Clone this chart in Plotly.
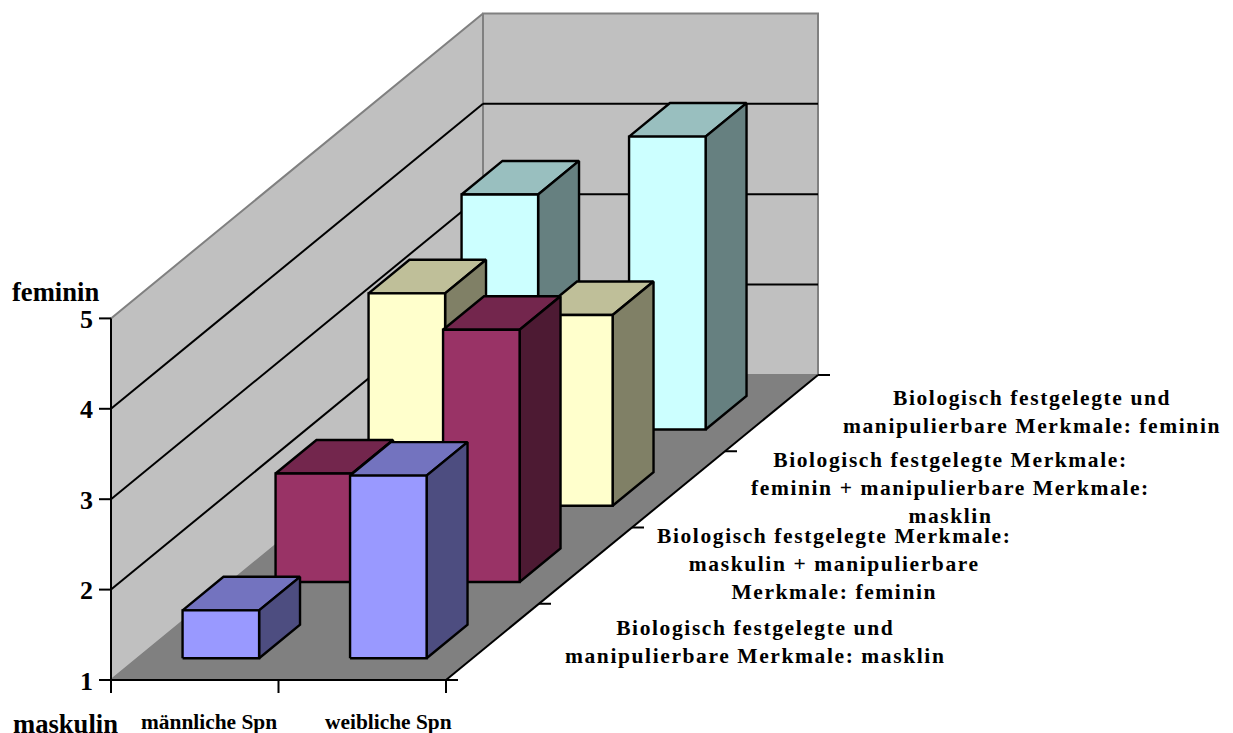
import plotly.graph_objects as go

# Categories along the front axis, series along the depth axis (front to back)
categories = ["männliche Spn", "weibliche Spn"]
series_lines = [
    ["Biologisch festgelegte und", "manipulierbare Merkmale: masklin"],
    ["Biologisch festgelegte Merkmale:", "maskulin + manipulierbare", "Merkmale: feminin"],
    ["Biologisch festgelegte Merkmale:", "feminin + manipulierbare Merkmale:", "masklin"],
    ["Biologisch festgelegte und", "manipulierbare Merkmale: feminin"],
]
series_values = [
    [1.53, 3.02],
    [2.20, 3.79],
    [3.35, 3.11],
    [3.60, 4.24],
]
value_ticks = [1, 2, 3, 4, 5]

# Face colours per series: front, top, side
front_colors = ["#9999FF", "#993366", "#FFFFCC", "#CCFFFF"]
top_colors = ["#7373BF", "#73264D", "#BFBF99", "#99BFBF"]
side_colors = ["#4D4D80", "#4D1A33", "#808066", "#668080"]

# Oblique projection of the chart box onto the page
ORIGIN_X, ORIGIN_Y = 111.0, 680.0
CAT_W = 167.5
UNIT_H = 90.4
SLOT_DX, SLOT_DY = 93.0, -76.25
BAR_LEFT, BAR_W = 0.269, 0.457
DEPTH_A, DEPTH_B = 0.285, 0.725


def project(cat, value, depth):
    """cat in category widths, value on the 1-5 scale, depth in series slots."""
    return (
        ORIGIN_X + cat * CAT_W + depth * SLOT_DX,
        ORIGIN_Y - (value - 1) * UNIT_H + depth * SLOT_DY,
    )


fig = go.Figure()


def polygon(points, fill, line="#000000", width=2.4):
    xs, ys = zip(*[project(*p) for p in points])
    fig.add_trace(go.Scatter(
        x=list(xs) + [xs[0]], y=list(ys) + [ys[0]], mode="lines",
        fill="toself", fillcolor=fill,
        line=dict(color=line, width=width, shape="linear"),
        hoverinfo="skip", showlegend=False,
    ))


def segment(a, b, color="#000000", width=2.0):
    xs, ys = zip(project(*a), project(*b))
    fig.add_trace(go.Scatter(
        x=list(xs), y=list(ys), mode="lines",
        line=dict(color=color, width=width),
        hoverinfo="skip", showlegend=False,
    ))


n_cat, n_ser = len(categories), len(series_values)
vmin, vmax = value_ticks[0], value_ticks[-1]

# Walls and floor
polygon([(0, vmin, 0), (0, vmax, 0), (0, vmax, n_ser), (0, vmin, n_ser)], "#C0C0C0", "#808080", 2.0)
polygon([(0, vmin, n_ser), (0, vmax, n_ser), (n_cat, vmax, n_ser), (n_cat, vmin, n_ser)], "#C0C0C0", "#808080", 2.0)
polygon([(0, vmin, 0), (n_cat, vmin, 0), (n_cat, vmin, n_ser), (0, vmin, n_ser)], "#808080", "#808080", 1.0)

# Gridlines on both walls
for v in value_ticks[1:-1]:
    segment((0, v, 0), (0, v, n_ser))
    segment((0, v, n_ser), (n_cat, v, n_ser))

# Axis lines and tick marks
segment((0, vmin, 0), (0, vmax, 0))
segment((0, vmin, 0), (n_cat, vmin, 0))
segment((n_cat, vmin, 0), (n_cat, vmin, n_ser))
for v in value_ticks:
    x, y = project(0, v, 0)
    fig.add_shape(type="line", x0=x - 12, x1=x, y0=y, y1=y, line=dict(color="#000000", width=2))
for c in range(n_cat + 1):
    x, y = project(c, vmin, 0)
    fig.add_shape(type="line", x0=x, x1=x, y0=y, y1=y + 13, line=dict(color="#000000", width=2))
for s in range(n_ser + 1):
    x, y = project(n_cat, vmin, s)
    fig.add_shape(type="line", x0=x, x1=x + 12, y0=y, y1=y, line=dict(color="#000000", width=2))

# Bars, painted from the back row forward
for s in reversed(range(n_ser)):
    for c in range(n_cat):
        v = series_values[s][c]
        left = c + BAR_LEFT
        right = left + BAR_W
        polygon([(left, v, s + DEPTH_A), (right, v, s + DEPTH_A),
                 (right, v, s + DEPTH_B), (left, v, s + DEPTH_B)], top_colors[s])
        polygon([(right, vmin, s + DEPTH_A), (right, v, s + DEPTH_A),
                 (right, v, s + DEPTH_B), (right, vmin, s + DEPTH_B)], side_colors[s])
        polygon([(left, vmin, s + DEPTH_A), (right, vmin, s + DEPTH_A),
                 (right, v, s + DEPTH_A), (left, v, s + DEPTH_A)], front_colors[s])

SERIF = "Liberation Serif, Times New Roman, serif"


def label(text, x, y, size, xanchor="center"):
    fig.add_annotation(
        x=x, y=y, xref="x", yref="y", text=f"<b>{text}</b>", showarrow=False,
        xanchor=xanchor, yanchor="middle", align="center", borderpad=0, borderwidth=0,
        font=dict(family=SERIF, size=size, color="#000000"),
    )


# Value axis labels and end captions
for v in value_ticks:
    x, y = project(0, v, 0)
    label(str(v), x - 18, y + 1, 26, "right")
label("feminin", 55, 292, 26.6)
label("maskulin", 65, 724, 26.6)

# Category labels
label(categories[0], 208.5, 722, 21.4)
label(categories[1], 388.5, 722, 21.4)

# Series labels beside the depth axis
series_centers = [(755, 642), (834, 564), (950, 488), (1032, 411.5)]
for lines, (cx, cy) in zip(series_lines, series_centers):
    body = "<br>".join(f'<span style="letter-spacing:1.6px">{ln}</span>' for ln in lines)
    label(body, cx, cy, 21.5)

fig.update_layout(
    width=1233, height=733, margin=dict(l=0, r=0, t=0, b=0),
    paper_bgcolor="#FFFFFF", plot_bgcolor="#FFFFFF", showlegend=False,
    xaxis=dict(range=[0, 1233], visible=False, fixedrange=True),
    yaxis=dict(range=[733, 0], visible=False, fixedrange=True),
)

fig.write_html("out.html", config={"displayModeBar": False})
